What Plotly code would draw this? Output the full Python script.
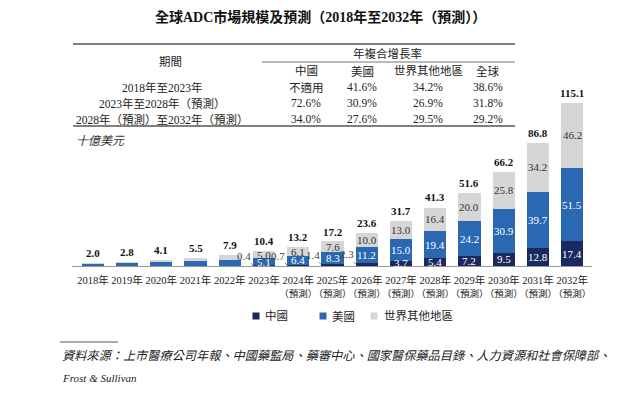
import plotly.graph_objects as go

# ---------------- data ----------------
years = ["2018年", "2019年", "2020年", "2021年", "2022年", "2023年", "2024年", "2025年",
         "2026年", "2027年", "2028年", "2029年", "2030年", "2031年", "2032年"]
forecast = [False] * 6 + [True] * 9
china = [0, 0, 0, 0, 0, 0.4, 0.7, 1.4, 2.3, 3.7, 5.4, 7.2, 9.5, 12.8, 17.4]
usa = [1.6, 2.2, 3.0, 3.3, 4.3, 5.1, 6.4, 8.3, 11.2, 15.0, 19.4, 24.2, 30.9, 39.7, 51.5]
row = [0.4, 0.6, 1.1, 2.2, 3.6, 5.0, 6.1, 7.6, 10.0, 13.0, 16.4, 20.0, 25.8, 34.2, 46.2]
totals = [2.0, 2.8, 4.1, 5.5, 7.9, 10.4, 13.2, 17.2, 23.6, 31.7, 41.3, 51.6, 66.2, 86.8, 115.1]
show_seg = [False] * 5 + [True] * 10
china_outside = [False] * 5 + [True] * 4 + [False] * 6

series_names = ["中國", "美國", "世界其他地區"]

table_periods = ["2018年至2023年", "2023年至2028年（預測）", "2028年（預測）至2032年（預測）"]
table_cols = ["中國", "美國", "世界其他地區", "全球"]
table_vals = [["不適用", "41.6%", "34.2%", "38.6%"],
              ["72.6%", "30.9%", "26.9%", "31.8%"],
              ["34.0%", "27.6%", "29.5%", "29.2%"]]

C_CN = "#1b2a5e"
C_US = "#2a68b2"
C_ROW = "#d6d6d6"
colors = [C_CN, C_US, C_ROW]
SERIF = "Liberation Serif, Noto Sans CJK TC, serif"

# page body has an 8px margin; the figure is sized to fit the 640x399 window
OFF = 8
W, H = 640 - 2 * OFF, 399 - 2 * OFF
def px(x):
    return (x - OFF) / W
def py(y):
    return 1 - (y - OFF) / H

ticktext = [y + ("<br><span style='font-size:9.5px'>（預測）</span>" if f else "")
            for y, f in zip(years, forecast)]

fig = go.Figure()
for name, vals, col in zip(series_names, [china, usa, row], colors):
    fig.add_bar(x=years, y=vals, name=name, marker_color=col, marker_line_width=0,
                showlegend=False)

def pann(x, y, text, size, color="#222", xanchor="center"):
    return dict(x=px(x), y=py(y), text=text, showarrow=False, xref="paper", yref="paper",
                xanchor=xanchor, yanchor="middle",
                font=dict(size=size, color=color, family=SERIF))

ann = []
for i, yr in enumerate(years):
    ann.append(dict(x=yr, y=totals[i], text="<b>%.1f</b>" % totals[i], showarrow=False,
                    xanchor="center", yanchor="bottom", yshift=2,
                    font=dict(size=11, color="#111", family=SERIF), xref="x", yref="y"))
    if show_seg[i]:
        if china_outside[i]:
            ann.append(dict(x=yr, y=china[i] / 2, text="%.1f" % china[i], showarrow=True,
                            arrowhead=0, arrowwidth=0.8, arrowcolor="#555", xshift=-11,
                            ax=-9, ay=-10, font=dict(size=11, color="#444", family=SERIF),
                            xref="x", yref="y"))
        else:
            ann.append(dict(x=yr, y=china[i] / 2, text="%.1f" % china[i], showarrow=False,
                            xanchor="center", yanchor="middle",
                            font=dict(size=11, color="white", family=SERIF), xref="x", yref="y"))
        ann.append(dict(x=yr, y=china[i] + usa[i] / 2, text="%.1f" % usa[i], showarrow=False,
                        xanchor="center", yanchor="middle",
                        font=dict(size=11, color="white", family=SERIF), xref="x", yref="y"))
        ann.append(dict(x=yr, y=china[i] + usa[i] + row[i] / 2, text="%.1f" % row[i],
                        showarrow=False, xanchor="center", yanchor="middle",
                        font=dict(size=11, color="#333", family=SERIF), xref="x", yref="y"))

# ---------------- title and table ----------------
TF = 11.5
ann.append(pann(320, 17, "<b>全球ADC市場規模及預測（2018年至2032年（預測））</b>", 14, "#111"))
ann.append(pann(388, 53, "年複合增長率", TF))
ann.append(pann(170, 62, "期間", TF))
col_x = [306, 362, 428, 488]
for cx, c in zip(col_x, table_cols):
    ann.append(pann(cx, 71, c, TF))
row_y = [87, 103, 119]
for ry, p, vals in zip(row_y, table_periods, table_vals):
    ann.append(pann(162, ry, p, TF))
    for cx, v in zip(col_x, vals):
        ann.append(pann(cx, ry, v, TF))
ann.append(pann(74, 141, "<i>十億美元</i>", 12, "#333", "left"))

# legend (small squares + labels)
leg_sq = [256, 323, 374]
leg_tx = [263, 330, 382]
shapes = []
for sx, tx, name, col in zip(leg_sq, leg_tx, series_names, colors):
    shapes.append(dict(type="rect", xref="paper", yref="paper",
                       x0=px(sx - 3.5), x1=px(sx + 3.5), y0=py(319.5), y1=py(312.5),
                       fillcolor=col, line=dict(width=0)))
    ann.append(pann(tx, 316, name, 11.5, "#222", "left"))

# source
ann.append(pann(60, 356, "<i>資料來源：上市醫療公司年報、中國藥監局、藥審中心、國家醫保藥品目錄、人力資源和社會保障部、</i>",
                12.2, "#222", "left"))
ann.append(pann(60, 378, "<i>Frost &amp; Sullivan</i>", 11, "#222", "left"))

def hline(x0, x1, y, color, width):
    return dict(type="line", xref="paper", yref="paper", x0=px(x0), x1=px(x1),
                y0=py(y), y1=py(y), line=dict(color=color, width=width))

shapes += [
    hline(73, 515, 44, "#555", 1.5),
    hline(262, 515, 62, "#777", 1),
    hline(73, 515, 126, "#555", 1.5),
    hline(60, 118, 342, "#555", 1),
]

fig.update_layout(
    width=W, height=H, barmode="stack", bargap=0.35,
    margin=dict(l=0, r=0, t=0, b=0, autoexpand=False),
    paper_bgcolor="white", plot_bgcolor="white",
    font=dict(family=SERIF, color="#222"),
    annotations=ann, shapes=shapes,
    showlegend=False,
    xaxis=dict(domain=[px(72), px(592)], range=[-0.61, 14.58], showgrid=False,
               showline=True, linecolor="#999", linewidth=1, ticks="", tickangle=0,
               automargin=False, ticklabelstandoff=4,
               tickmode="array", tickvals=years, ticktext=ticktext,
               tickfont=dict(size=10.5, family=SERIF, color="#222"), fixedrange=True),
    yaxis=dict(domain=[py(266), py(95)], range=[0, 120.5], visible=False,
               automargin=False, fixedrange=True),
)

fig.write_html("out.html")
